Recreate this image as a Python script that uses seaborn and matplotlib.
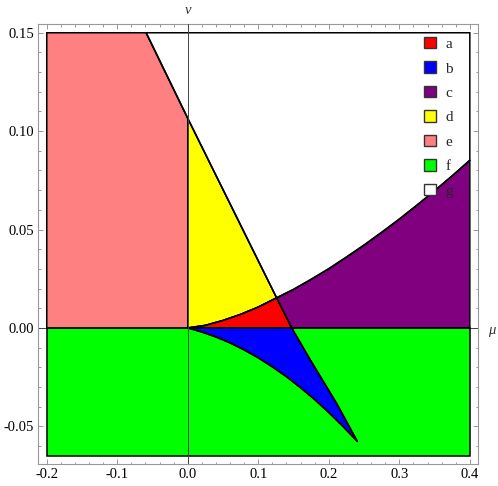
import numpy as np
import matplotlib
matplotlib.use("Agg")
import matplotlib.pyplot as plt
from matplotlib.patches import Patch
from matplotlib.ticker import MultipleLocator, FormatStrFormatter
import seaborn as sns

sns.set_style("ticks")
plt.rcParams["font.family"] = ["Liberation Serif", "DejaVu Serif"]

# Plot range of the regions
x_min, x_max = -0.2, 0.4
y_min, y_max = -0.065, 0.15

# Straight-ish boundary line (from top edge down to its tip)
line_x = np.array([-0.059, 0.0, 0.126, 0.1474, 0.1733, 0.2113, 0.2405])
line_y = np.array([0.15, 0.1065, 0.0153, 0.0, -0.016, -0.0385, -0.0577])

# Upper curve (yellow/red below, white/purple above)
upper_x = np.array([0.0, 0.025, 0.05, 0.075, 0.1, 0.126, 0.15, 0.175, 0.2, 0.225, 0.25,
                    0.275, 0.3, 0.325, 0.35, 0.375, 0.4])
upper_y = np.array([0.0, 0.0013, 0.0038, 0.0069, 0.0106, 0.0153, 0.0196, 0.0247, 0.0301,
                    0.036, 0.0421, 0.0486, 0.0553, 0.0624, 0.0697, 0.0773, 0.0852])

# Lower curve (blue above, green below)
lower_x = np.array([0.0, 0.02, 0.04, 0.06, 0.08, 0.1, 0.12, 0.14, 0.16, 0.18, 0.2, 0.22, 0.2405])
lower_y = np.array([0.0, -0.0021, -0.0046, -0.0076, -0.0112, -0.0152, -0.0198, -0.0248,
                    -0.0304, -0.0364, -0.043, -0.05, -0.0577])

labels = ["a", "b", "c", "d", "e", "f", "g"]
colors = ["#ff0000", "#0000ff", "#800080", "#ffff00", "#ff8080", "#00ff00", "#ffffff"]
col = dict(zip(labels, colors))

fig = plt.figure(figsize=(4.98, 4.86), dpi=100)
ax = fig.add_axes([0.0769, 0.0447, 0.8835, 0.9053])

# split the boundary arrays at the shared points
i0 = np.where(line_x == 0.0)[0][0]
i1 = np.where(line_x == 0.126)[0][0]
i2 = np.where(line_y == 0.0)[0][0]
k = np.where(upper_x == 0.126)[0][0]


def poly(xs, ys, c):
    ax.fill(xs, ys, facecolor=c, edgecolor="black", linewidth=1.1, zorder=2)


# f: green strip
poly([x_min, x_max, x_max, x_min], [y_min, y_min, 0, 0], col["f"])
# e: pink
poly(np.r_[x_min, x_min, line_x[:i0 + 1], 0], np.r_[0, y_max, line_y[:i0 + 1], 0], col["e"])
# d: yellow
poly(np.r_[line_x[i0:i1 + 1], upper_x[k::-1]], np.r_[line_y[i0:i1 + 1], upper_y[k::-1]], col["d"])
# a: red
poly(np.r_[upper_x[:k + 1], line_x[i1 + 1:i2 + 1]], np.r_[upper_y[:k + 1], line_y[i1 + 1:i2 + 1]], col["a"])
# c: purple
poly(np.r_[line_x[i2], x_max, upper_x[:k - 1:-1], line_x[i1 + 1:i2]],
     np.r_[0, 0, upper_y[:k - 1:-1], line_y[i1 + 1:i2]], col["c"])
# g: white
poly(np.r_[line_x[0], x_max, upper_x[:k - 1:-1], line_x[i1 - 1::-1]],
     np.r_[y_max, y_max, upper_y[:k - 1:-1], line_y[i1 - 1::-1]], col["g"])
# b: blue
poly(np.r_[line_x[i2:], lower_x[::-1]], np.r_[line_y[i2:], lower_y[::-1]], col["b"])

# boundary curves
for bx, by in [(line_x, line_y), (upper_x, upper_y), (lower_x, lower_y)]:
    sns.lineplot(x=bx, y=by, sort=False, estimator=None, color="black", linewidth=1.1, ax=ax, zorder=3)

# axes through the origin
ax.axvline(0, color="#444444", linewidth=0.7, zorder=4)
ax.axhline(0, color="#444444", linewidth=0.7, zorder=1)

ax.set_xlim(-0.212, 0.412)
ax.set_ylim(-0.0693, 0.1543)
ax.xaxis.set_major_locator(MultipleLocator(0.1))
ax.xaxis.set_minor_locator(MultipleLocator(0.02))
ax.yaxis.set_major_locator(MultipleLocator(0.05))
ax.yaxis.set_minor_locator(MultipleLocator(0.01))
ax.xaxis.set_major_formatter(FormatStrFormatter("%.1f"))
ax.yaxis.set_major_formatter(FormatStrFormatter("%.2f"))
ax.tick_params(which="both", direction="in", top=True, right=True, color="#999999",
               labelsize=10.5, labelcolor="black", width=0.7)
ax.tick_params(which="major", length=3.5, pad=3)
ax.tick_params(which="minor", length=1.8)
for s in ax.spines.values():
    s.set_color("#999999")
    s.set_linewidth(0.8)

fig.text(188 / 498, 1 - 10 / 486, "ν", ha="center", va="center", fontsize=10.5,
         style="italic", color="#333333")
fig.text(492 / 498, 1 - 330 / 486, "μ", ha="center", va="center", fontsize=10.5,
         style="italic", color="#333333")

handles = [Patch(facecolor=c, edgecolor="#333333", linewidth=1.0) for c in colors]
ax.legend(handles, labels, loc="upper left", bbox_to_anchor=(424 / 498, 1 - 37 / 486),
          bbox_transform=fig.transFigure, frameon=False, fontsize=11,
          handlelength=0.78, handleheight=0.78, handletextpad=0.6,
          labelspacing=0.68, borderpad=0, borderaxespad=0)

fig.savefig("out.png", dpi=100)
